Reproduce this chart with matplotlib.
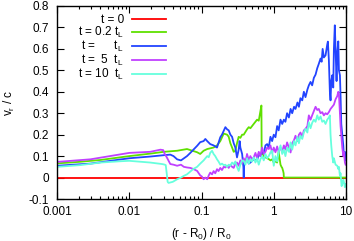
import matplotlib
matplotlib.use("Agg")
import matplotlib.pyplot as plt
from matplotlib.ticker import LogLocator

plt.rcParams['font.family'] = ['Liberation Sans', 'DejaVu Sans']
plt.rcParams['mathtext.fontset'] = 'custom'
plt.rcParams['mathtext.rm'] = 'Liberation Sans'
plt.rcParams['mathtext.it'] = 'Liberation Sans'
plt.rcParams['mathtext.default'] = 'regular'

labels = ["t = 0", "t = 0.2 t$_L$", "t =      t$_L$", "t =  5  t$_L$", "t = 10  t$_L$"]
colors = ["#ff0000", "#5fe000", "#2244ff", "#c040ff", "#66ffdd"]

red_x = [0.001, 10.0]
red_y = [0.0, 0.0]

green_x = [0.001, 0.002, 0.004, 0.01, 0.02, 0.03, 0.046, 0.063, 0.075, 0.087, 0.096, 0.107, 0.12,
           0.147, 0.164, 0.182, 0.203, 0.226, 0.238, 0.251, 0.265, 0.279, 0.294, 0.31, 0.327, 0.345,
           0.365, 0.384, 0.427, 0.451, 0.475, 0.528, 0.588, 0.62, 0.654, 0.675, 0.68, 0.727, 0.767,
           0.81, 0.853, 0.9, 0.95, 1.0, 1.056, 1.114, 1.17, 1.24, 1.28, 1.31, 1.35, 1.37, 1.38, 10.0]
green_y = [0.066, 0.073, 0.082, 0.1, 0.112, 0.12, 0.125, 0.133, 0.125, 0.118, 0.11, 0.125, 0.133,
           0.14, 0.15, 0.17, 0.205, 0.2, 0.19, 0.16, 0.14, 0.12, 0.125, 0.16, 0.19, 0.185,
           0.2, 0.2, 0.225, 0.235, 0.23, 0.25, 0.27, 0.265, 0.31, 0.336, 0.12, 0.1, 0.094,
           0.09, 0.086, 0.08, 0.085, 0.07, 0.075, 0.07, 0.12, 0.06, 0.05, 0.045, 0.03, 0.02, 0.0, 0.0]

blue_x = [0.001, 0.0029, 0.01, 0.0195, 0.0295, 0.037, 0.041, 0.046, 0.052, 0.063, 0.07, 0.087,
          0.096, 0.107, 0.113, 0.12, 0.132, 0.147, 0.164, 0.182, 0.192, 0.214, 0.226, 0.238,
          0.251, 0.265, 0.279, 0.294, 0.31, 0.327, 0.337, 0.345, 0.365, 0.38, 0.384, 0.388,
          0.405, 0.427, 0.451, 0.475, 0.528, 0.588, 0.62, 0.654, 0.69, 0.727, 0.767, 0.81,
          0.853, 0.9, 0.95, 1.0, 1.056, 1.114, 1.17, 1.24, 1.31, 1.38, 1.45, 1.53, 1.62, 1.71,
          1.8, 1.91, 2.0, 2.13, 2.23, 2.34, 2.48, 2.61, 2.75, 2.92, 3.06, 3.23, 3.4, 3.59,
          3.79, 4.0, 4.2, 4.44, 4.6, 4.75, 4.94, 5.21, 5.5, 5.61, 5.79, 5.98, 6.11, 6.25,
          6.45, 6.66, 6.8, 7.0, 7.17, 7.4, 7.57, 7.82, 7.98, 8.24, 8.41, 8.6, 8.88, 9.17,
          9.35, 9.66, 9.87]
blue_y = [0.055, 0.065, 0.09, 0.098, 0.104, 0.107, 0.1, 0.085, 0.08, 0.1, 0.115, 0.148,
          0.165, 0.17, 0.18, 0.17, 0.156, 0.15, 0.14, 0.188, 0.2, 0.235, 0.225, 0.22,
          0.2, 0.19, 0.16, 0.14, 0.094, 0.13, 0.17, 0.14, 0.11, 0.05, 0.0, 0.06,
          0.078, 0.09, 0.065, 0.07, 0.085, 0.08, 0.11, 0.1, 0.125, 0.11, 0.15, 0.156,
          0.14, 0.19, 0.17, 0.2, 0.188, 0.24, 0.22, 0.27, 0.25, 0.27, 0.26, 0.3, 0.28, 0.32,
          0.3, 0.33, 0.32, 0.35, 0.33, 0.37, 0.36, 0.4, 0.375, 0.41, 0.43, 0.446, 0.43, 0.465,
          0.48, 0.51, 0.53, 0.555, 0.54, 0.6, 0.56, 0.57, 0.62, 0.634, 0.55, 0.4, 0.36, 0.45,
          0.477, 0.42, 0.6, 0.71, 0.6, 0.45, 0.58, 0.635, 0.5, 0.477, 0.38, 0.25, 0.2, 0.15,
          0.1, 0.12, 0.08]

magenta_x = [0.001, 0.0029, 0.01, 0.0195, 0.027, 0.0295, 0.031, 0.033, 0.037, 0.041, 0.046,
             0.052, 0.057, 0.063, 0.07, 0.077, 0.087, 0.096, 0.101, 0.107, 0.113, 0.12, 0.126,
             0.132, 0.14, 0.147, 0.155, 0.164, 0.172, 0.182, 0.192, 0.203, 0.214, 0.226, 0.238,
             0.251, 0.265, 0.279, 0.294, 0.31, 0.327, 0.345, 0.365, 0.384, 0.405, 0.427, 0.451,
             0.475, 0.5, 0.528, 0.558, 0.588, 0.62, 0.654, 0.69, 0.727, 0.767, 0.81, 0.853, 0.9,
             0.95, 1.0, 1.056, 1.114, 1.17, 1.24, 1.31, 1.38, 1.45, 1.53, 1.62, 1.71, 1.8, 1.91,
             2.0, 2.13, 2.23, 2.34, 2.48, 2.61, 2.75, 2.92, 3.06, 3.23, 3.4, 3.59, 3.79, 4.0,
             4.2, 4.44, 4.69, 4.94, 5.21, 5.5, 5.79, 6.11, 6.45, 6.8, 7.17, 7.57, 7.82, 7.98,
             8.24, 8.41, 8.69, 8.88, 9.17, 9.35, 9.66, 9.87]
magenta_y = [0.073, 0.085, 0.115, 0.12, 0.13, 0.128, 0.11, 0.095, 0.063, 0.06, 0.055,
             0.06, 0.05, 0.047, 0.045, 0.04, 0.031, 0.01, 0.005, -0.008, 0.0, -0.008, 0.01,
             0.023, 0.015, 0.03, 0.02, 0.039, 0.03, 0.045, 0.035, 0.05, 0.047, 0.055, 0.045,
             0.06, 0.05, 0.045, 0.065, 0.07, 0.055, 0.08, 0.065, 0.09, 0.07, 0.11, 0.08,
             0.1, 0.085, 0.094, 0.115, 0.09, 0.12, 0.1, 0.14, 0.11, 0.12, 0.14, 0.133, 0.15,
             0.115, 0.14, 0.118, 0.145, 0.12, 0.14, 0.12, 0.15, 0.13, 0.164, 0.14, 0.117, 0.16, 0.175,
             0.195, 0.17, 0.2, 0.21, 0.19, 0.22, 0.227, 0.24, 0.29, 0.27, 0.29, 0.31, 0.33, 0.315,
             0.32, 0.3, 0.305, 0.29, 0.3, 0.295, 0.305, 0.32, 0.33, 0.34, 0.365, 0.38, 0.4, 0.39,
             0.3, 0.24, 0.18, 0.14, 0.1, 0.12, 0.07, 0.06]

cyan_x = [0.001, 0.0021, 0.004, 0.0075, 0.01, 0.014, 0.0195, 0.027, 0.0295, 0.031, 0.032, 0.033,
          0.034, 0.035, 0.04, 0.046, 0.052, 0.057, 0.063, 0.07, 0.077, 0.087, 0.096, 0.107,
          0.12, 0.126, 0.132, 0.14, 0.147, 0.155, 0.164, 0.172, 0.182, 0.192, 0.203, 0.214,
          0.226, 0.238, 0.251, 0.265, 0.279, 0.294, 0.31, 0.327, 0.345, 0.365, 0.384, 0.405,
          0.427, 0.451, 0.475, 0.5, 0.528, 0.558, 0.588, 0.62, 0.654, 0.69, 0.727, 0.767, 0.81,
          0.853, 0.9, 0.95, 1.0, 1.056, 1.114, 1.17, 1.24, 1.31, 1.38, 1.45, 1.53, 1.62, 1.71,
          1.8, 1.91, 2.0, 2.13, 2.23, 2.34, 2.48, 2.61, 2.75, 2.92, 3.06, 3.23, 3.4, 3.59, 3.79,
          4.0, 4.2, 4.44, 4.69, 4.94, 5.21, 5.5, 5.79, 5.98, 6.11, 6.25, 6.45, 6.66, 6.8, 7.17,
          7.57, 7.82, 7.98, 8.24, 8.41, 8.69, 8.88, 9.17, 9.35, 9.66, 9.87]
cyan_y = [0.05, 0.058, 0.07, 0.076, 0.078, 0.074, 0.07, 0.064, 0.062, 0.06, 0.058, 0.02,
          -0.02, -0.025, -0.02, -0.008, 0.0, 0.008, 0.015, 0.028, 0.04, 0.05, 0.065, 0.08,
          0.1, 0.095, 0.115, 0.125, 0.11, 0.1, 0.085, 0.075, 0.06, 0.065, 0.058, 0.06,
          0.05, 0.06, 0.055, 0.07, 0.062, 0.075, 0.05, 0.031, 0.06, 0.08, 0.078, 0.06,
          0.09, 0.065, 0.086, 0.075, 0.094, 0.07, 0.09, 0.06, 0.085, 0.1, 0.08, 0.11, 0.09,
          0.1, 0.117, 0.125, 0.055, 0.1, 0.075, 0.12, 0.15, 0.11, 0.13, 0.1, 0.14, 0.12, 0.164,
          0.13, 0.17, 0.15, 0.19, 0.16, 0.195, 0.18, 0.21, 0.227, 0.21, 0.258, 0.23, 0.255, 0.27, 0.26,
          0.29, 0.27, 0.285, 0.26, 0.266, 0.25, 0.27, 0.28, 0.29, 0.2, 0.15, 0.1, 0.07, 0.09, 0.06,
          0.055, 0.04, 0.05, 0.008, 0.02, -0.04, -0.03, -0.01, -0.02, -0.045, -0.03]

series = [(red_x, red_y), (green_x, green_y), (blue_x, blue_y),
          (magenta_x, magenta_y), (cyan_x, cyan_y)]

FS = 8.5
fig = plt.figure(figsize=(3.54, 2.41), dpi=100)
ax = fig.add_axes([57 / 354, 42 / 241, 289 / 354, 193 / 241])

for (xs, ys), c, lab in zip(series, colors, labels):
    ax.plot(xs, ys, color=c, lw=1.3, label=lab)

ax.set_xscale('log')
ax.set_xlim(0.001, 10)
ax.set_ylim(-0.1, 0.8)
ax.set_yticks([-0.1, 0, 0.1, 0.2, 0.3, 0.4, 0.5, 0.6, 0.7, 0.8])
ax.set_yticklabels(["-0.1", "0", "0.1", "0.2", "0.3", "0.4", "0.5", "0.6", "0.7", "0.8"])
ax.set_xticks([0.001, 0.01, 0.1, 1, 10])
ax.set_xticklabels(["0.001", "0.01", "0.1", "1", "10"])
ax.xaxis.set_minor_locator(LogLocator(base=10, subs=[2, 3, 4, 5, 6, 7, 8, 9]))
ax.tick_params(which='both', direction='in', top=True, right=True, labelsize=FS,
               colors='black', width=0.8)
ax.tick_params(which='major', length=5)
ax.tick_params(axis='y', which='major', pad=6)
ax.tick_params(axis='x', which='major', pad=5)
ax.tick_params(which='minor', length=2.5)
for s in ax.spines.values():
    s.set_linewidth(1.0)

ax.set_xlabel("(r - R$_0$) / R$_0$", fontsize=FS, labelpad=6)
ax.set_ylabel("v$_r$ / c", fontsize=FS, labelpad=8)

leg = ax.legend(loc='upper right', bbox_to_anchor=(0.405, 1.0), frameon=False,
                markerfirst=False, fontsize=FS, handlelength=2.9, labelspacing=-0.08,
                handletextpad=0.7, borderpad=0.15)

fig.savefig("out.png", dpi=100)
